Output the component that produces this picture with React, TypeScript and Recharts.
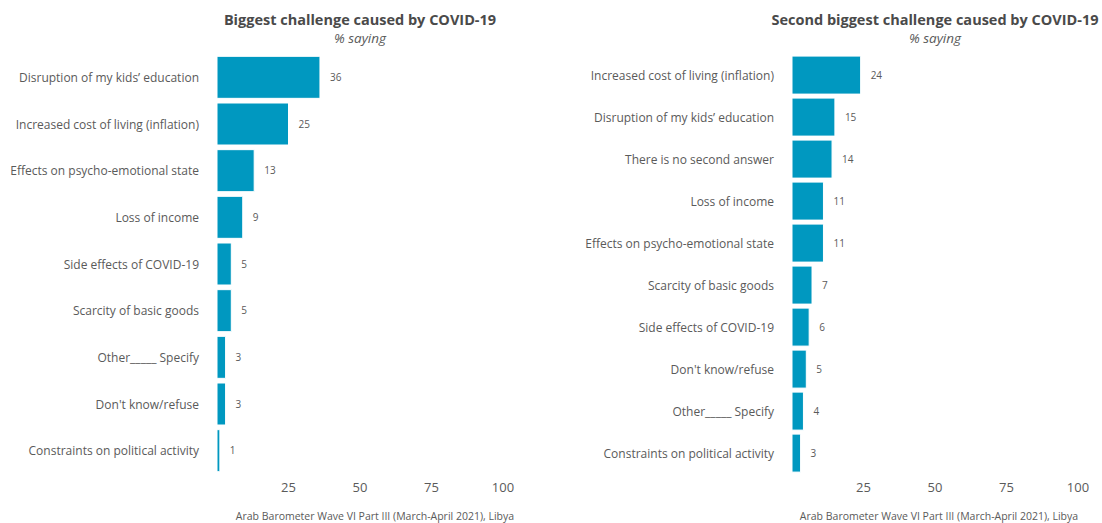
import { BarChart, Bar, XAxis, YAxis, LabelList } from "recharts";

const firstLabels = [
  "Disruption of my kids’ education",
  "Increased cost of living (inflation)",
  "Effects on psycho-emotional state",
  "Loss of income",
  "Side effects of COVID-19",
  "Scarcity of basic goods",
  "Other_____ Specify",
  "Don't know/refuse",
  "Constraints on political activity",
];
const firstValues = [36, 25, 13, 9, 5, 5, 3, 3, 1];

const secondLabels = [
  "Increased cost of living (inflation)",
  "Disruption of my kids’ education",
  "There is no second answer",
  "Loss of income",
  "Effects on psycho-emotional state",
  "Scarcity of basic goods",
  "Side effects of COVID-19",
  "Don't know/refuse",
  "Other_____ Specify",
  "Constraints on political activity",
];
const secondValues = [24, 15, 14, 11, 11, 7, 6, 5, 4, 3];

const xTicks = [25, 50, 75, 100];
const caption = "Arab Barometer Wave VI Part III (March-April 2021), Libya";

const FONT = "'Open Sans', 'Noto Sans', sans-serif";
const BAR = "#0098c0";
const TEXT = "#5a5a5a";

// plain tick so long labels stay on one line
const CategoryTick = ({ x, y, payload }: any) => (
  <text x={x} y={y} dy="0.4em" textAnchor="end" fill={TEXT} fontSize={12} fontFamily={FONT}>
    {payload.value}
  </text>
);

type PanelProps = {
  labels: string[];
  values: number[];
  left: number;
  width: number;
  axisWidth: number;
  rightMargin: number;
  title: string;
  captionX: number;
};

const Panel = ({ labels, values, left, width, axisWidth, rightMargin, title, captionX }: PanelProps) => {
  const data = labels.map((name, i) => ({ name, value: values[i] }));
  const plotCenter = axisWidth + (width - axisWidth - rightMargin) / 2;
  return (
    <div style={{ position: "absolute", left, top: 0, width, height: 523 }}>
      <BarChart
        width={width}
        height={523}
        data={data}
        layout="vertical"
        barCategoryGap="5%"
        margin={{ top: 54, right: rightMargin, bottom: 19, left: 0 }}
      >
        <XAxis
          type="number"
          domain={[0, 100]}
          ticks={xTicks}
          axisLine={false}
          tickLine={false}
          tickSize={0}
          tickMargin={9}
          height={30}
          tick={{ fill: TEXT, fontSize: 13, fontFamily: FONT }}
        />
        <YAxis
          type="category"
          dataKey="name"
          width={axisWidth}
          axisLine={false}
          tickLine={false}
          tickSize={0}
          tickMargin={18}
          interval={0}
          tick={<CategoryTick />}
        />
        <Bar dataKey="value" fill={BAR} stroke="#ffffff" strokeWidth={1} isAnimationActive={false}>
          <LabelList
            dataKey="value"
            position="right"
            offset={10}
            style={{ fill: TEXT, fontSize: 10, fontFamily: FONT }}
          />
        </Bar>
      </BarChart>
      <div
        style={{
          position: "absolute",
          top: 10,
          left: plotCenter - 200,
          width: 400,
          textAlign: "center",
          fontFamily: FONT,
          color: "#4a4a4a",
          lineHeight: "19px",
        }}
      >
        <div style={{ fontWeight: 700, fontSize: 14.5 }}>{title}</div>
        <div style={{ fontStyle: "italic", fontSize: 13.5, color: TEXT }}>% saying</div>
      </div>
      <div
        style={{
          position: "absolute",
          top: 509,
          left: captionX - 200,
          width: 400,
          textAlign: "center",
          fontFamily: FONT,
          fontSize: 10.5,
          color: TEXT,
        }}
      >
        {caption}
      </div>
    </div>
  );
};

export default function App() {
  return (
    <div style={{ position: "absolute", left: 0, top: 0, width: 1102, height: 523, background: "#fff", overflow: "hidden" }}>
      <Panel
        labels={firstLabels}
        values={firstValues}
        left={0}
        width={551}
        axisWidth={217}
        rightMargin={48}
        title="Biggest challenge caused by COVID-19"
        captionX={375}
      />
      <Panel
        labels={secondLabels}
        values={secondValues}
        left={551}
        width={551}
        axisWidth={241}
        rightMargin={24}
        title="Second biggest challenge caused by COVID-19"
        captionX={388}
      />
    </div>
  );
}
